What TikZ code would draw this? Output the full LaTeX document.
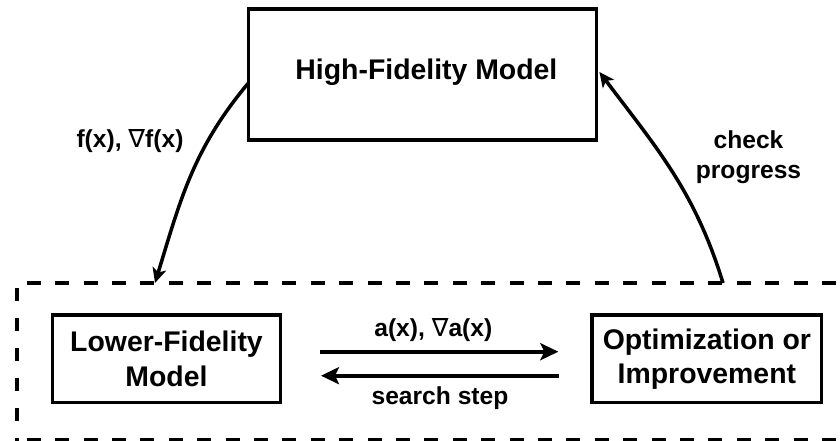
\documentclass[tikz,border=0pt]{standalone}
\usepackage{fontspec}
\setmainfont{Liberation Sans}
\newfontfamily\nablafont{DejaVu Sans}
\usetikzlibrary{arrows.meta}
\newcommand{\nabsym}{{\nablafont\mdseries\fontsize{25}{25}\selectfont ∇}}
\begin{document}
\begin{tikzpicture}[x=1pt,y=1pt,
  bigtxt/.style={font=\bfseries\fontsize{28.4}{34.3}\selectfont},
  smalltxt/.style={font=\bfseries\fontsize{24.6}{30}\selectfont},
  hbox/.style={draw, line width=3.3pt, inner sep=0pt, outer sep=0pt, align=center, bigtxt},
  frameline/.style={line width=4.5pt},
  flowarrow/.style={line width=4.2pt, -{Stealth[length=18pt,width=17pt,inset=4pt]}},
  curvearrow/.style={line width=3.5pt, -{Stealth[length=15pt,width=14pt,inset=4pt]}},
  labtxt/.style={smalltxt, inner sep=0pt, align=center}]

\useasboundingbox (0,0) rectangle (840,440);
\fill[white] (0,0) rectangle (840,440);

% dashed frame
\coordinate (ftl) at (17,157);
\coordinate (ftr) at (860,157);
\coordinate (fbl) at (17,-0.5);
\coordinate (fbr) at (860,-0.5);
\coordinate (fin) at (155,157);
\coordinate (fout) at (723,157);
\draw[frameline, dash pattern=on 14pt off 14.4pt, dash phase=18.7pt] (ftl) -- (ftr);
\draw[frameline, dash pattern=on 13pt off 17pt, dash phase=24.7pt] (ftl) -- (fbl);
\draw[frameline, dash pattern=on 14pt off 14.4pt, dash phase=18.7pt] (fbl) -- (fbr);

% boxes
\node[hbox, minimum width=348pt, minimum height=131pt,
      label={[bigtxt, inner sep=0pt, xshift=4pt, yshift=2.6pt]center:High-Fidelity Model}]
      (hf) at (422.4,365.5) {};
\node[hbox, minimum width=228.4pt, minimum height=87.7pt] (lf) at (166.5,81.1) {Lower-Fidelity\\Model};
\node[hbox, minimum width=229.7pt, minimum height=87.7pt] (opt) at (706.9,81.1) {Optimization or\\Improvement};

% straight arrows
\draw[flowarrow] ([xshift=39.3pt,yshift=7.2pt]lf.east) -- ([xshift=-33.7pt,yshift=7.2pt]opt.west);
\draw[flowarrow] ([xshift=-33pt,yshift=-16.8pt]opt.west) -- ([xshift=40.3pt,yshift=-16.8pt]lf.east);

% curved arrows
\draw[curvearrow] ([yshift=-8.5pt]hf.west) to[out=230,in=73] (fin);
\draw[curvearrow] (fout) to[out=107,in=-53] ([xshift=3pt,yshift=2.5pt]hf.east);

% labels
\node[labtxt] (alab) at (433.3,109.5) {a(x), \nabsym a(x)};
\node[labtxt] (slab) at (440,41.5) {search step};
\node[labtxt] (flab) at (130,298.5) {f(x), \nabsym f(x)};
\node[labtxt] (clab) at (748.5,283) {check\\progress};
\end{tikzpicture}
\end{document}
